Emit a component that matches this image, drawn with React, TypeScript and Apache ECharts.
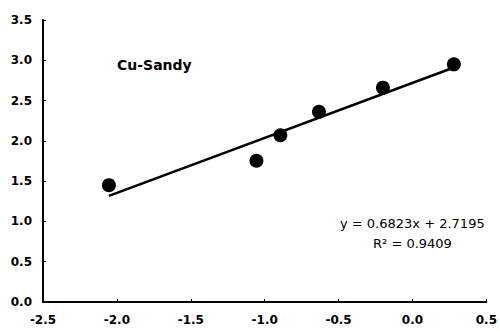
import React, { useEffect, useRef } from "react";
import * as echarts from "echarts";

const xValues = [-2.054, -1.056, -0.894, -0.633, -0.2, 0.28];
const yValues = [1.45, 1.753, 2.07, 2.36, 2.66, 2.95];
const slope = 0.6823;
const intercept = 2.7195;
const rSquared = 0.9409;
const seriesTitle = "Cu-Sandy";

export default function App() {
  const ref = useRef<HTMLDivElement>(null);
  useEffect(() => {
    if (!ref.current) return;
    const chart = echarts.init(ref.current, null, { renderer: "svg" });
    const xMin = Math.min(...xValues);
    const xMax = Math.max(...xValues);
    const trend = [xMin, xMax].map((x) => [x, slope * x + intercept]);
    const axisLabel = {
      color: "#000",
      fontFamily: "'DejaVu Sans', sans-serif",
      fontWeight: "bold" as const,
      fontSize: 12,
      formatter: (v: number) => v.toFixed(1),
    };
    chart.setOption({
      animation: false,
      backgroundColor: "#fff",
      grid: { left: 43, right: 13, top: 20, bottom: 30 },
      xAxis: {
        type: "value",
        min: -2.5,
        max: 0.5,
        interval: 0.5,
        axisLine: { show: true, onZero: false, lineStyle: { color: "#000", width: 2 } },
        axisTick: { show: true, inside: true, length: 3, lineStyle: { color: "#000" } },
        splitLine: { show: false },
        axisLabel: { ...axisLabel, margin: 12 },
      },
      yAxis: {
        type: "value",
        min: 0,
        max: 3.5,
        interval: 0.5,
        axisLine: { show: true, onZero: false, lineStyle: { color: "#000", width: 2 } },
        axisTick: { show: true, inside: true, length: 3, lineStyle: { color: "#000" } },
        splitLine: { show: false },
        axisLabel: { ...axisLabel, margin: 11 },
      },
      series: [
        {
          type: "line",
          data: trend,
          symbol: "none",
          lineStyle: { color: "#000", width: 2.5 },
          z: 2,
        },
        {
          type: "scatter",
          data: xValues.map((x, i) => [x, yValues[i]]),
          symbol: "circle",
          symbolSize: 14,
          itemStyle: { color: "#000", opacity: 1 },
          z: 3,
        },
      ],
      graphic: [
        {
          type: "text",
          left: 117,
          top: 58,
          style: {
            text: seriesTitle,
            fill: "#000",
            font: "bold 14px 'DejaVu Sans', sans-serif",
          },
        },
        {
          type: "text",
          left: 340,
          top: 217,
          style: {
            text: `y = ${slope}x + ${intercept}`,
            fill: "#000",
            font: "13px 'DejaVu Sans', sans-serif",
          },
        },
        {
          type: "text",
          left: 373,
          top: 237,
          style: {
            text: `R² = ${rSquared}`,
            fill: "#000",
            font: "13px 'DejaVu Sans', sans-serif",
          },
        },
      ],
    });
    return () => chart.dispose();
  }, []);
  return (
    <div
      ref={ref}
      style={{ position: "fixed", left: 0, top: 0, width: 500, height: 332 }}
    />
  );
}
